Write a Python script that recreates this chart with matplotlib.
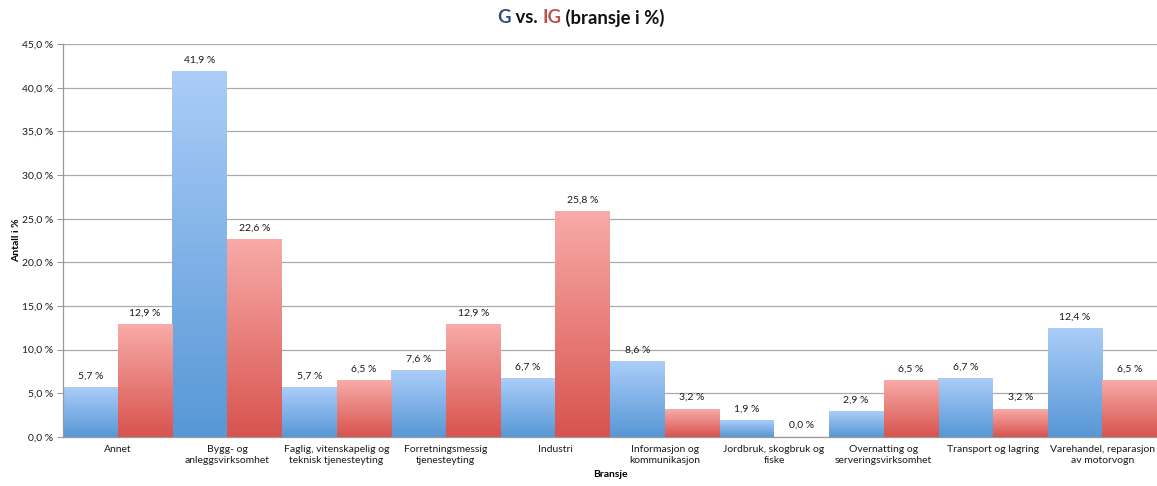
import numpy as np
import matplotlib
matplotlib.use("Agg")
import matplotlib.pyplot as plt
from matplotlib.colors import LinearSegmentedColormap

plt.rcParams['font.family'] = ['Lato', 'DejaVu Sans']
plt.rcParams['text.color'] = '#1a1a1a'
plt.rcParams['xtick.color'] = '#1a1a1a'
plt.rcParams['ytick.labelcolor'] = '#1a1a1a'

categories = [
    "Annet",
    "Bygg- og\nanleggsvirksomhet",
    "Faglig, vitenskapelig og\nteknisk tjenesteyting",
    "Forretningsmessig\ntjenesteyting",
    "Industri",
    "Informasjon og\nkommunikasjon",
    "Jordbruk, skogbruk og\nfiske",
    "Overnatting og\nserveringsvirksomhet",
    "Transport og lagring",
    "Varehandel, reparasjon\nav motorvogn",
]
g_values = [5.7, 41.9, 5.7, 7.6, 6.7, 8.6, 1.9, 2.9, 6.7, 12.4]
ig_values = [12.9, 22.6, 6.5, 12.9, 25.8, 3.2, 0.0, 6.5, 3.2, 6.5]
y_ticks = [0, 5, 10, 15, 20, 25, 30, 35, 40, 45]


def pct(v):
    return f"{v:.1f} %".replace(".", ",")


blue_cmap = LinearSegmentedColormap.from_list("g", ["#5797d6", "#abcdf8"])
red_cmap = LinearSegmentedColormap.from_list("ig", ["#d8534e", "#f8aba8"])
gradient = np.linspace(0, 1, 256).reshape(-1, 1)

fig = plt.figure(figsize=(11.57, 4.86), dpi=100)
ax = fig.add_axes([0.0545, 0.101, 0.9455, 0.808])

x = np.arange(len(categories))
width = 0.5
bars_g = ax.bar(x - width / 2, g_values, width, color="none")
bars_ig = ax.bar(x + width / 2, ig_values, width, color="none")

# fill each bar with a vertical gradient, light at the top
for bars, cmap in ((bars_g, blue_cmap), (bars_ig, red_cmap)):
    for b in bars:
        h = b.get_height()
        if h <= 0:
            continue
        x0 = b.get_x()
        ax.imshow(gradient, cmap=cmap, origin="lower", aspect="auto",
                  extent=(x0, x0 + b.get_width(), 0, h), zorder=2)

for bars, vals in ((bars_g, g_values), (bars_ig, ig_values)):
    for b, v in zip(bars, vals):
        ax.text(b.get_x() + b.get_width() / 2, v + 0.8, pct(v),
                ha="center", va="bottom", fontsize=7.5)

ax.set_xlim(-0.5, len(categories) - 0.5)
ax.set_ylim(0, 45)
ax.set_yticks(y_ticks)
ax.set_yticklabels([pct(t) for t in y_ticks], fontsize=7.5)
ax.set_xticks(x)
ax.set_xticklabels(categories, fontsize=7.5)
ax.tick_params(axis="x", length=0, pad=6)
ax.tick_params(axis="y", length=4, color="#999999", pad=3)
ax.grid(axis="y", color="#aaaaaa", linewidth=0.9, zorder=0)
ax.set_axisbelow(True)
for side in ("top", "right"):
    ax.spines[side].set_visible(False)
for side in ("left", "bottom"):
    ax.spines[side].set_color("#999999")
    ax.spines[side].set_linewidth(0.9)

ax.set_ylabel("Antall i %", fontsize=7.5, fontweight="bold", labelpad=1)
ax.set_xlabel("Bransje", fontsize=7.5, fontweight="bold", labelpad=4)

# title made of coloured pieces
pieces = [("G", "#2d4f7c"), (" vs. ", "#111111"), ("IG", "#c0504d"),
          (" (bransje i %)", "#111111")]
renderer = fig.canvas.get_renderer()
texts = []
for s, c in pieces:
    t = fig.text(0, 0.963, s, color=c, fontsize=13.3, fontweight="bold",
                 ha="left", va="center")
    texts.append(t)
widths = [t.get_window_extent(renderer).width for t in texts]
total = sum(widths)
xpos = 581 - total / 2
for t, w in zip(texts, widths):
    t.set_x(xpos / fig.bbox.width)
    xpos += w

fig.savefig("out.png", dpi=100)
